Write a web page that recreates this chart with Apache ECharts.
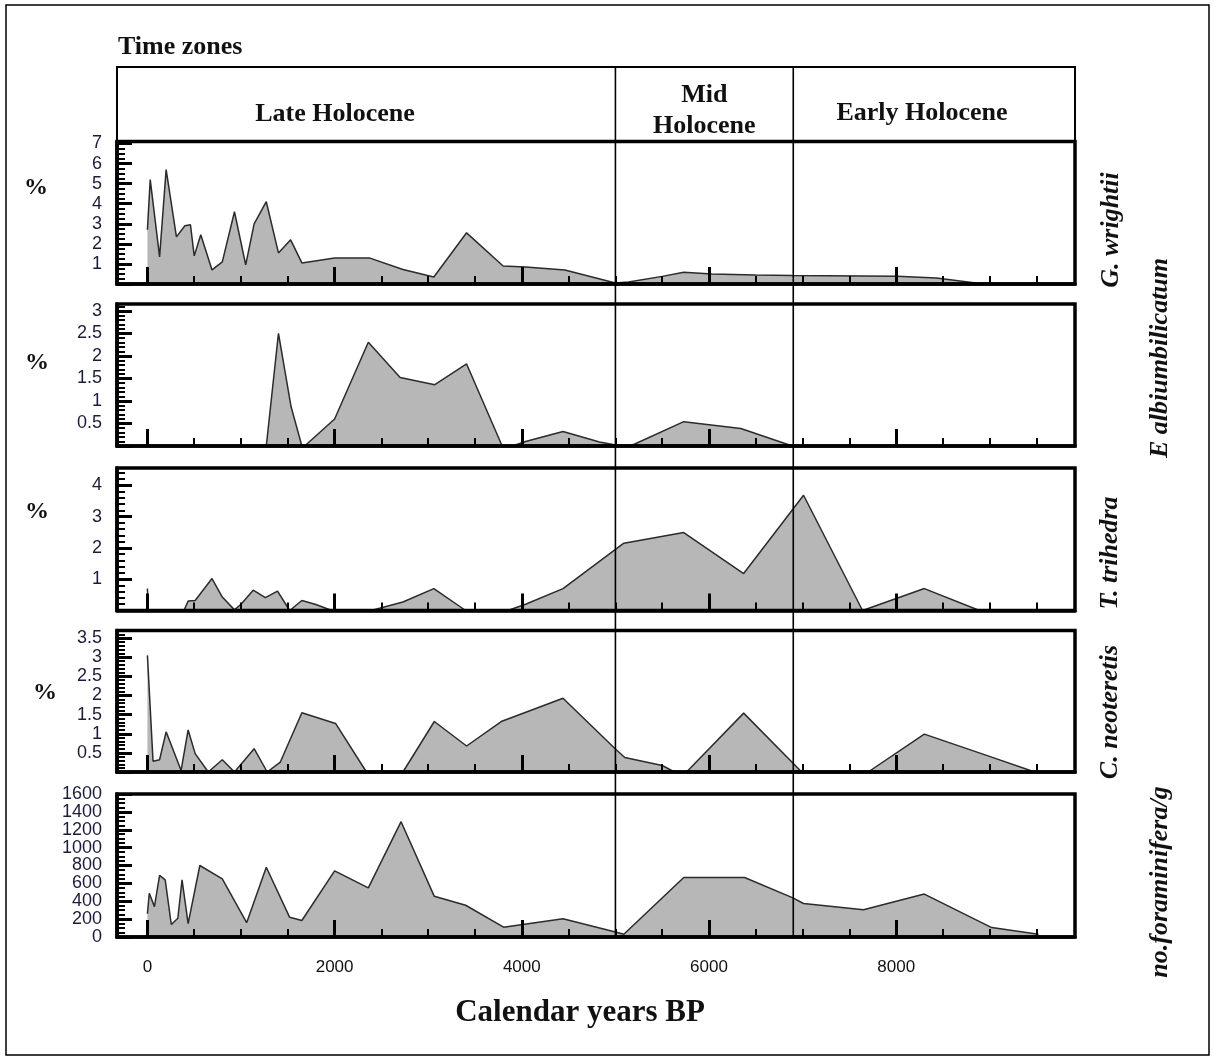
<!DOCTYPE html>
<html>
<head>
<meta charset="utf-8">
<script src="https://cdn.jsdelivr.net/npm/echarts@6/dist/echarts.min.js"></script>
<style>
  html, body { margin: 0; padding: 0; background: #fff; }
  #chart { width: 1214px; height: 1059px; }
</style>
</head>
<body>
<div id="chart"></div>
<script>
// Calendar years BP (x) against abundance for each record
const wrightii = [[0,2.7],[30,5.2],[130,1.35],[200,5.7],[310,2.35],[400,2.9],[460,2.95],[500,1.4],[570,2.45],[690,0.7],[800,1.1],[930,3.6],[1050,0.95],[1140,3.0],[1270,4.1],[1400,1.55],[1530,2.2],[1650,1.05],[2000,1.3],[2370,1.3],[2730,0.72],[3060,0.35],[3410,2.55],[3800,0.9],[4040,0.85],[4460,0.7],[5000,0.05],[5140,0.1],[5500,0.38],[5730,0.58],[6030,0.5],[6500,0.45],[6890,0.42],[8010,0.38],[8430,0.3],[8850,0.05],[9000,0]];
const albiumbilicatum = [[1270,0],[1400,2.5],[1535,0.87],[1650,0],[1680,0],[2000,0.6],[2360,2.3],[2700,1.52],[3070,1.36],[3410,1.82],[3790,0],[3900,0],[4040,0.1],[4440,0.32],[4830,0.09],[5000,0.02],[5160,0],[5730,0.54],[6340,0.39],[6890,0]];
const trihedra = [[0,0.7],[8,0],[390,0],[435,0.3],[510,0.32],[690,1.02],[800,0.43],[930,0.02],[1000,0.2],[1130,0.65],[1260,0.41],[1390,0.62],[1520,0],[1650,0.32],[1800,0.19],[1970,0],[2390,0],[2730,0.27],[3060,0.7],[3400,0],[3850,0],[4040,0.2],[4440,0.7],[5090,2.15],[5730,2.49],[6370,1.18],[7010,3.68],[7640,0],[8300,0.7],[8890,0]];
const neoteretis = [[0,3.05],[60,0.28],[130,0.32],[200,1.05],[360,0.04],[435,1.1],[510,0.48],[650,0],[800,0.32],[930,0],[1140,0.61],[1280,0],[1420,0.26],[1650,1.55],[2010,1.27],[2340,0],[2730,0],[3065,1.32],[3410,0.68],[3780,1.32],[4440,1.93],[5000,0.6],[5100,0.38],[5500,0.17],[5630,0],[5760,0],[6370,1.54],[6990,0],[7700,0],[8300,0.99],[9020,0.39],[9480,0]];
const foraminifera = [[0,260],[20,490],[75,340],[130,690],[190,640],[255,140],[325,210],[370,640],[435,150],[560,800],[800,650],[1060,160],[1270,780],[1520,220],[1650,185],[2000,740],[2360,550],[2710,1290],[3065,455],[3400,355],[3805,110],[4440,205],[5000,55],[5090,30],[5730,665],[6380,665],[6890,440],[7010,375],[7650,305],[8300,480],[9020,105],[9520,30]];

// Axis ranges and tick labels
const xRange = [-325, 9910];
const xMajorTicks = [0, 2000, 4000, 6000, 8000];
const xMinorTicks = [500, 1000, 1500, 2500, 3000, 3500, 4500, 5000, 5500, 6500, 7000, 7500, 8500, 9000, 9500];
const xTickLabels = [0, 2000, 4000, 6000, 8000];
const yMax = [7.1, 3.15, 4.55, 3.7, 1600];
const yInterval = [1, 0.5, 1, 0.5, 200];
const yMinorSplit = [4, 5, 5, 5, 4];
const yTickLabels = [
  [1, 2, 3, 4, 5, 6, 7],
  [0.5, 1, 1.5, 2, 2.5, 3],
  [1, 2, 3, 4],
  [0.5, 1, 1.5, 2, 2.5, 3, 3.5],
  [0, 200, 400, 600, 800, 1000, 1200, 1400, 1600]
];
const seriesData = [wrightii, albiumbilicatum, trihedra, neoteretis, foraminifera];
const taxonNames = ['G. wrightii', 'E albiumbilicatum', 'T. trihedra', 'C. neoteretis', 'no.foraminifera/g'];

// Time zone boundaries (years BP) and names
const zoneBounds = [5000, 6900];
const zoneNames = ['Late Holocene', 'Mid\nHolocene', 'Early Holocene'];

// Panel layout
const panelTop = [141.5, 304, 468, 630.5, 794];
const panelHeight = [142.5, 142, 142.5, 141.5, 143];
const plotLeft = 117, plotRight = 1075;

const SERIF = '"Liberation Serif", "Times New Roman", serif';
const SANS = '"Liberation Sans", Arial, sans-serif';
const INK = '#111';
const plain = v => String(v);

const grids = [], xAxes = [], yAxes = [], series = [];
for (let i = 0; i < 5; i++) {
  grids.push({
    left: plotLeft, width: plotRight - plotLeft, top: panelTop[i], height: panelHeight[i],
    show: true, borderColor: '#000', borderWidth: 3.5, backgroundColor: 'transparent', z: 10
  });
  // major x ticks (and labels on the bottom panel)
  xAxes.push({
    gridIndex: i, type: 'value', min: xRange[0], max: xRange[1], position: 'bottom', z: 10,
    axisLine: { show: true, onZero: false, lineStyle: { color: '#000', width: 3.5 } },
    axisTick: { show: true, inside: true, length: 17, customValues: xMajorTicks, lineStyle: { color: '#000', width: 3 } },
    axisLabel: { show: i === 4, customValues: xTickLabels, formatter: plain, margin: 22, fontSize: 17, fontFamily: SANS, color: INK },
    splitLine: { show: false }
  });
  // minor x ticks every 500 years
  xAxes.push({
    gridIndex: i, type: 'value', min: xRange[0], max: xRange[1], position: 'bottom', z: 10,
    axisLine: { show: false, onZero: false },
    axisTick: { show: true, inside: true, length: 8, customValues: xMinorTicks, lineStyle: { color: '#000', width: 2 } },
    axisLabel: { show: false },
    splitLine: { show: false }
  });
  yAxes.push({
    gridIndex: i, type: 'value', min: 0, max: yMax[i], interval: yInterval[i], z: 10,
    axisLine: { show: true, onZero: false, lineStyle: { color: '#000', width: 3.5 } },
    axisTick: { show: true, inside: true, length: 15, customValues: yTickLabels[i].concat([0]), lineStyle: { color: '#000', width: 3 } },
    minorTick: { show: true, splitNumber: yMinorSplit[i], length: 8, lineStyle: { color: '#000', width: 2 } },
    axisLabel: { show: true, customValues: yTickLabels[i], formatter: plain, margin: 15, fontSize: 18, fontFamily: SANS, color: '#1c1c3a' },
    splitLine: { show: false }
  });
  series.push({
    type: 'line', name: taxonNames[i], xAxisIndex: 2 * i, yAxisIndex: i, data: seriesData[i],
    symbol: 'none', silent: true, animation: false, z: 2,
    lineStyle: { color: '#2b2b2b', width: 1.5 },
    areaStyle: { color: '#b7b7b7', opacity: 1 }
  });
}

const chart = echarts.init(document.getElementById('chart'), null, { renderer: 'canvas' });
chart.setOption({
  backgroundColor: '#fff',
  animation: false,
  grid: grids,
  xAxis: xAxes,
  yAxis: yAxes,
  series: series
});

// Header box, zone boundaries and text drawn on top of the panels
const zoneX = zoneBounds.map(v => chart.convertToPixel({ xAxisIndex: 0 }, v));
const boxTop = 67;
const lastBottom = panelTop[4] + panelHeight[4];

function txt(text, x, y, font, opts) {
  return Object.assign({
    type: 'text', x: x, y: y, z: 30, silent: true,
    style: { text: text, font: font, fill: INK, textAlign: 'center', textVerticalAlign: 'middle', lineHeight: 31 }
  }, opts || {});
}

const graphics = [
  // outer frame
  { type: 'rect', z: 30, silent: true, shape: { x: 6, y: 5, width: 1203, height: 1050 }, style: { fill: 'none', stroke: '#000', lineWidth: 1.5 } },
  // time zones box
  { type: 'rect', z: 30, silent: true, shape: { x: plotLeft, y: boxTop, width: plotRight - plotLeft, height: panelTop[0] - boxTop }, style: { fill: 'none', stroke: '#000', lineWidth: 2 } },
  txt('Time zones', 118, 47, 'bold 26px ' + SERIF, { style: { text: 'Time zones', font: 'bold 26px ' + SERIF, fill: INK, textAlign: 'left', textVerticalAlign: 'middle' } }),
  txt(zoneNames[0], 335, 114, 'bold 26px ' + SERIF),
  txt(zoneNames[1], (zoneX[0] + zoneX[1]) / 2, 111, 'bold 26px ' + SERIF),
  txt(zoneNames[2], 922, 113, 'bold 26px ' + SERIF),
  // axis title
  txt('Calendar years BP', 580, 1013, 'bold 31px ' + SERIF),
  // percent labels
  txt('%', 36, 188, 'bold 24px ' + SERIF),
  txt('%', 37, 363, 'bold 24px ' + SERIF),
  txt('%', 37, 512, 'bold 24px ' + SERIF),
  txt('%', 45, 693, 'bold 24px ' + SERIF),
  // taxon names, reading upward
  txt(taxonNames[0], 1111, 230, 'italic bold 26px ' + SERIF, { rotation: Math.PI / 2 }),
  txt(taxonNames[1], 1160, 358, 'italic bold 26px ' + SERIF, { rotation: Math.PI / 2 }),
  txt(taxonNames[2], 1110, 553, 'italic bold 26px ' + SERIF, { rotation: Math.PI / 2 }),
  txt(taxonNames[3], 1110, 712, 'italic bold 26px ' + SERIF, { rotation: Math.PI / 2 }),
  txt(taxonNames[4], 1160, 882, 'italic bold 26px ' + SERIF, { rotation: Math.PI / 2 })
];
zoneX.forEach(x => {
  graphics.push({ type: 'line', z: 25, silent: true, shape: { x1: x, y1: boxTop, x2: x, y2: lastBottom }, style: { stroke: '#000', lineWidth: 1.6 } });
});
chart.setOption({ graphic: graphics });
</script>
</body>
</html>
